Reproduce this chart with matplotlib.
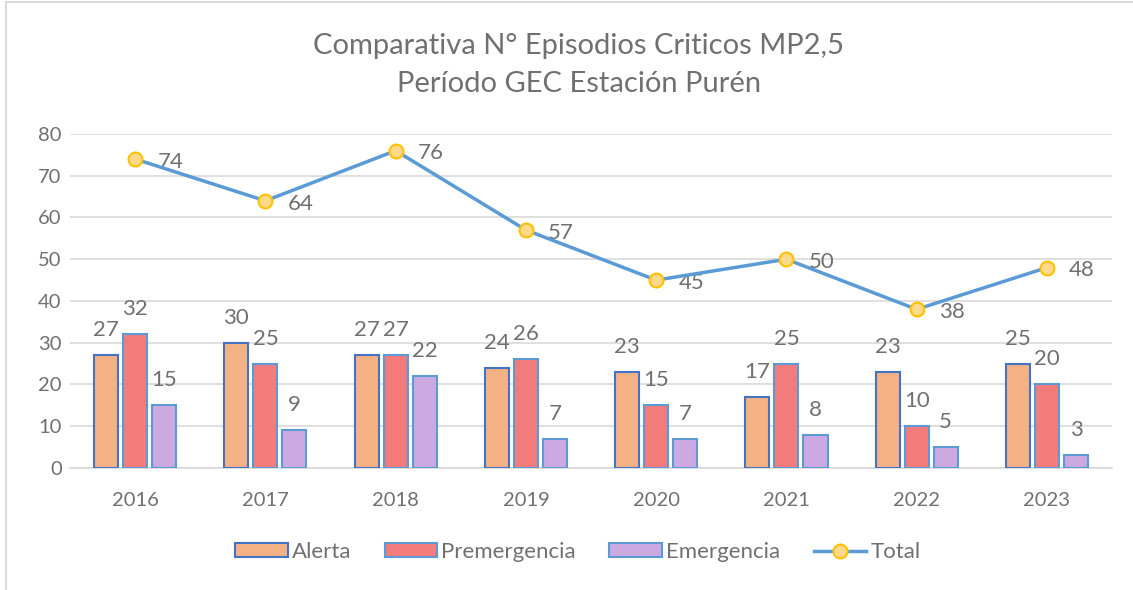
import numpy as np
import matplotlib.pyplot as plt
from matplotlib.patches import Rectangle
from matplotlib.lines import Line2D

plt.rcParams['font.family'] = ['Lato', 'DejaVu Sans']

years = ["2016", "2017", "2018", "2019", "2020", "2021", "2022", "2023"]
alerta = [27, 30, 27, 24, 23, 17, 23, 25]
premergencia = [32, 25, 27, 26, 15, 25, 10, 20]
emergencia = [15, 9, 22, 7, 7, 8, 5, 3]
total = [74, 64, 76, 57, 45, 50, 38, 48]

gray = "#707070"
x = np.arange(len(years))
w = 0.185
step = 0.223

fig = plt.figure(figsize=(11.33, 5.9), dpi=100)
ax = fig.add_axes([0.0618, 0.2068, 0.9197, 0.5661])

series = [
    ("Alerta", alerta, "#F4B183", "#4472C4"),
    ("Premergencia", premergencia, "#F47B7B", "#5B9BD5"),
    ("Emergencia", emergencia, "#CDA9E2", "#5B9BD5"),
]
for i, (name, vals, fc, ec) in enumerate(series):
    bars = ax.bar(x + (i - 1) * step, vals, w, color=fc, edgecolor=ec, linewidth=1.5,
                  label=name, zorder=3)
    for b, v in zip(bars, vals):
        ax.annotate(str(v), (b.get_x() + b.get_width() / 2, v), xytext=(0, 18),
                    textcoords="offset points", ha="center", va="center",
                    fontsize=16, color=gray)

ax.plot(x, total, color="#5B9BD5", lw=2.5, marker="o", ms=10,
        mfc="#FFD98A", mec="#FFC000", mew=1.5, label="Total", zorder=4)
for xi, v in zip(x, total):
    ax.annotate(str(v), (xi, v), xytext=(16, -2), textcoords="offset points",
                ha="left", va="center", fontsize=16, color=gray)

ax.set_xlim(-0.5, len(years) - 0.5)
ax.set_ylim(0, 80)
ax.set_yticks(range(0, 81, 10))
ax.set_xticks(x)
ax.set_xticklabels(years)
ax.yaxis.grid(True, color="#D9D9D9", lw=1.2, zorder=0)
ax.set_axisbelow(True)
for s in ["top", "right", "left"]:
    ax.spines[s].set_visible(False)
ax.spines["bottom"].set_color("#D9D9D9")
ax.spines["bottom"].set_linewidth(1.2)
ax.tick_params(axis="both", length=0, labelsize=14.5, labelcolor=gray)
ax.tick_params(axis="x", pad=17)
ax.tick_params(axis="y", pad=6)

fig.text(0.511, 0.922, "Comparativa N° Episodios Criticos MP2,5", ha="center", va="center",
         fontsize=21, color=gray)
fig.text(0.511, 0.858, "Período GEC Estación Purén", ha="center", va="center",
         fontsize=21, color=gray)

handles = [
    Rectangle((0, 0), 1, 1, fc="#F4B183", ec="#4472C4", lw=1.5),
    Rectangle((0, 0), 1, 1, fc="#F47B7B", ec="#5B9BD5", lw=1.5),
    Rectangle((0, 0), 1, 1, fc="#CDA9E2", ec="#5B9BD5", lw=1.5),
    Line2D([], [], color="#5B9BD5", lw=2.5, marker="o", ms=10, mfc="#FFD98A",
           mec="#FFC000", mew=1.5),
]
fig.legend(handles, ["Alerta", "Premergencia", "Emergencia", "Total"], loc="center",
           bbox_to_anchor=(0.51, 0.064), ncol=4, frameon=False, fontsize=16,
           labelcolor=gray, handlelength=2.35, handleheight=0.6, columnspacing=1.5,
           handletextpad=0.2)

fig.add_artist(Rectangle((0.005, -0.05), 1.1, 1.046, transform=fig.transFigure,
                         fill=False, ec="#D9D9D9", lw=1.5))

fig.savefig("out.png", dpi=100)
